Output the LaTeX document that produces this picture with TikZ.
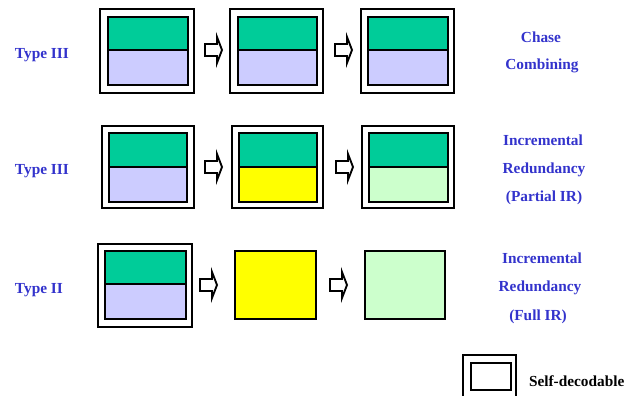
\documentclass[tikz,border=0pt]{standalone}
\usepackage{fontspec}
\setmainfont{Liberation Serif}

\definecolor{hdrgreen}{RGB}{0,204,153}
\definecolor{datalav}{RGB}{204,204,255}
\definecolor{paritygreen}{RGB}{204,255,204}
\definecolor{incryellow}{RGB}{255,255,0}
\definecolor{lblblue}{RGB}{51,51,204}

\tikzset{every picture/.style={line width=1.5pt}}
\tikzset{
	lbl/.style={text=lblblue, font=\fontsize{11.5}{13}\selectfont\bfseries, inner sep=0.75pt},
	fwd/.pic={\draw [line width=1.4pt, fill=white] (0,-6) -- (12,-6) -- (12,-13) -- (17,0) -- (12,13) -- (12,6) -- (0,6) -- cycle;}
}

\begin{document}
\begin{tikzpicture}[x=0.75pt,y=0.75pt,yscale=-1,xscale=1]
	\useasboundingbox (0,0) rectangle (629,396);
	% row 1: chase combining
	\draw (100,9) rectangle (194,93);
	\draw [fill=hdrgreen] (108,17) rectangle (188,50);
	\draw [fill=datalav] (108,50) rectangle (188,85);
	\draw (230,9) rectangle (323,93);
	\draw [fill=hdrgreen] (238,17) rectangle (317,50);
	\draw [fill=datalav] (238,50) rectangle (317,85);
	\draw (361,9) rectangle (454,93);
	\draw [fill=hdrgreen] (368,17) rectangle (448,50);
	\draw [fill=datalav] (368,50) rectangle (448,85);
	\pic at (205,50) {fwd};
	\pic at (335,50) {fwd};
	% row 2: partial IR
	\draw (102,126) rectangle (194,208);
	\draw [fill=hdrgreen] (109,133) rectangle (187,167);
	\draw [fill=datalav] (109,167) rectangle (187,202);
	\draw (232,126) rectangle (323,208);
	\draw [fill=hdrgreen] (239,133) rectangle (317,167);
	\draw [fill=incryellow] (239,167) rectangle (317,202);
	\draw (362,126) rectangle (454,208);
	\draw [fill=hdrgreen] (369,133) rectangle (448,167);
	\draw [fill=paritygreen] (369,167) rectangle (448,202);
	\pic at (205,167) {fwd};
	\pic at (336,167) {fwd};
	% row 3: full IR
	\draw (98,244) rectangle (192,327);
	\draw [fill=hdrgreen] (105,251) rectangle (186,284);
	\draw [fill=datalav] (105,284) rectangle (186,319);
	\draw [fill=incryellow] (235,251) rectangle (316,319);
	\draw [fill=paritygreen] (365,251) rectangle (445,319);
	\pic at (200,285) {fwd};
	\pic at (330,285) {fwd};
	% legend
	\draw (463,355) rectangle (516,398);
	\draw (471,363) rectangle (511,390);
	\node (selfdec) at (527,381) [anchor=west][inner sep=0.75pt] {\fontsize{11.5}{13}\selectfont\bfseries Self-decodable};
	% labels
	\node (typeA) at (13,55) [lbl, anchor=west] {Type III};
	\node (typeB) at (13,171) [lbl, anchor=west] {Type III};
	\node (typeC) at (13,290) [lbl, anchor=west] {Type II};
	\node (ccA) at (541,37) [lbl] {Chase};
	\node (ccB) at (542,66) [lbl] {Combining};
	\node (pirA) at (543,140) [lbl] {Incremental};
	\node (pirB) at (544,170) [lbl] {Redundancy};
	\node (pirC) at (544,198) [lbl] {(Partial IR)};
	\node (firA) at (542,258) [lbl] {Incremental};
	\node (firB) at (540,288) [lbl] {Redundancy};
	\node (firC) at (538,317) [lbl] {(Full IR)};
\end{tikzpicture}
\end{document}
